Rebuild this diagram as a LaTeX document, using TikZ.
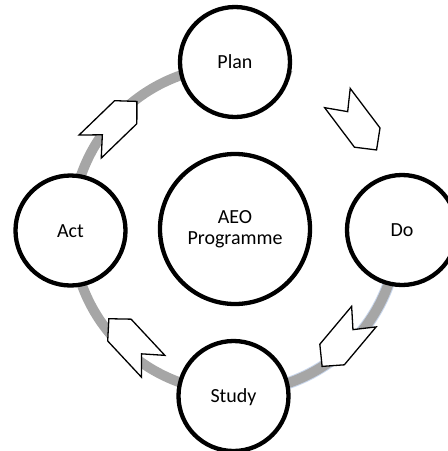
\documentclass[tikz,border=0pt]{standalone}
\usepackage{fontspec}
\setmainfont{Carlito}
\definecolor{ringgray}{RGB}{166,166,166}
\definecolor{ringblue}{RGB}{200,214,236}
\begin{document}
\begin{tikzpicture}[x=1pt,y=-1pt,
  stage/.style={circle, draw=black, line width=4.3pt, fill=white, minimum size=110pt, inner sep=0pt,
    font=\fontsize{20}{21}\selectfont, text height=13pt, text depth=0pt},
  hub/.style={circle, draw=black, line width=4.3pt, fill=white, minimum size=150pt, inner sep=0pt,
    align=center, font=\fontsize{20}{21}\selectfont},
  ring/.style={draw=ringgray, line width=10pt},
  chevstyle/.style={draw=black, fill=white, line width=1.3pt, line join=miter},
  chev/.pic={\path[chevstyle] (-32.5,-16) -- (17,-16) -- (32.5,0) -- (17,16) -- (-32.5,16) -- (-15.5,0) -- cycle;}
]
\useasboundingbox (0,0) rectangle (448,451);
\coordinate (o) at (235,229);
% cycle ring (gap in the upper right)
\draw[draw=ringblue, line width=12pt] (o) ++(10:163) arc[start angle=10, end angle=85, radius=163];
\draw[ring] (o) ++(-19:163) arc[start angle=-19, end angle=290, radius=163];
% stage circles
\node[hub] (aeo) at (235,229) {AEO\\Programme};
\node[stage] (plan) at (235,62) {Plan};
\node[stage] (do) at (402,230) {Do};
\node[stage] (study) at (233.5,396) {Study};
\node[stage] (act) at (70.5,230.5) {Act};
% block arrows
\pic[rotate=-53] at (357,124) {chev};
\pic[rotate=230] at (343,341.5) {chev};
\pic[rotate=133] at (131,342.5) {chev};
\pic[rotate=44] at (113.5,124) {chev};
\end{tikzpicture}
\end{document}
